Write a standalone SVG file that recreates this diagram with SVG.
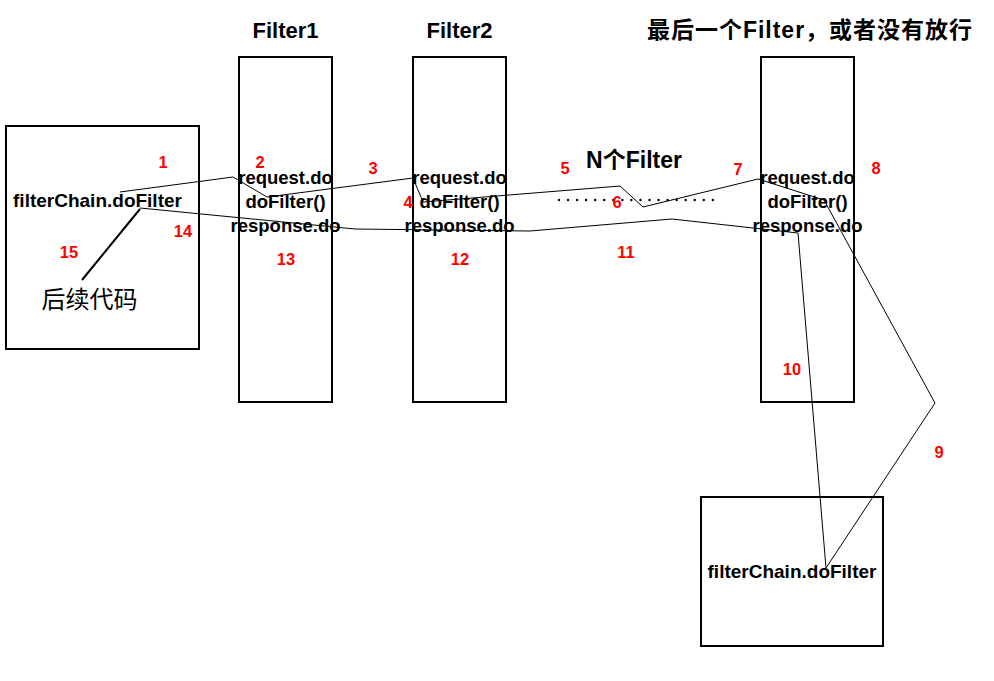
<svg xmlns="http://www.w3.org/2000/svg" width="994" height="681" viewBox="0 0 994 681">
<style>
.box{fill:none;stroke:#000;stroke-width:2}
.t{font-family:"Liberation Sans",Arial,"Noto Sans CJK SC",sans-serif;font-weight:bold;font-size:18.5px;fill:#000;text-anchor:middle}
.fc{font-size:19px}
.h{font-family:"Liberation Sans",Arial,"Noto Sans CJK SC",sans-serif;font-weight:bold;font-size:22px;fill:#000;text-anchor:middle}
.n{font-family:"Liberation Sans",Arial,sans-serif;font-weight:bold;font-size:16.5px;fill:#FF0000;text-anchor:middle}
.c{fill:none;stroke:#000;stroke-width:1;stroke-linejoin:miter}
</style>
<rect width="994" height="681" fill="#fff"/>
<g id="caller">
<rect class="box" x="6" y="126" width="193" height="223"/>
<text class="t fc" x="97.5" y="207">filterChain.doFilter</text>
<text x="89.5" y="308" font-family="'Noto Sans CJK SC',sans-serif" font-size="24px" text-anchor="middle" fill="#000">后续代码</text>
</g>
<g id="filter1">
<text class="h" x="285.5" y="38">Filter1</text>
<rect class="box" x="239" y="57" width="93" height="345"/>
<text class="t" x="285.5" y="184">request.do</text>
<text class="t" x="285.5" y="208">doFilter()</text>
<text class="t" x="285.5" y="232">response.do</text>
</g>
<g id="filter2">
<text class="h" x="459.5" y="38">Filter2</text>
<rect class="box" x="413" y="57" width="93" height="345"/>
<text class="t" x="459.5" y="184">request.do</text>
<text class="t" x="459.5" y="208">doFilter()</text>
<text class="t" x="459.5" y="232">response.do</text>
</g>
<g id="nfilters">
<text class="h" x="634" y="168" font-size="23px" style="font-size:23px">N个Filter</text>
<line x1="559" y1="200" x2="714" y2="200" stroke="#000" stroke-width="2.4" stroke-linecap="round" stroke-dasharray="0 9.05"/>
</g>
<g id="lastfilter">
<text class="h" x="810" y="38" style="font-size:23px;letter-spacing:1px">最后一个Filter，或者没有放行</text>
<rect class="box" x="761" y="57" width="93" height="345"/>
<text class="t" x="807.5" y="184">request.do</text>
<text class="t" x="807.5" y="208">doFilter()</text>
<text class="t" x="807.5" y="232">response.do</text>
</g>
<g id="target">
<rect class="box" x="701" y="497" width="182" height="149"/>
<text class="t fc" x="792" y="578">filterChain.doFilter</text>
</g>
<g id="connectors">
<polyline class="c" points="120,192 233,177 267,197 413,178 423,202 620,186 643,207 758,179 824,200 935,403 826,568 798,233 753,228 672,219 530,231 355,229 140,208"/>
<line x1="140" y1="209" x2="82" y2="280" stroke="#000" stroke-width="2"/>
</g>
<g id="labels">
<text class="n" x="163" y="168">1</text>
<text class="n" x="260" y="168">2</text>
<text class="n" x="373" y="174">3</text>
<text class="n" x="408" y="208">4</text>
<text class="n" x="565" y="174">5</text>
<text class="n" x="617" y="208">6</text>
<text class="n" x="738" y="175">7</text>
<text class="n" x="876" y="174">8</text>
<text class="n" x="939" y="458">9</text>
<text class="n" x="792" y="375">10</text>
<text class="n" x="626" y="258">11</text>
<text class="n" x="460" y="265">12</text>
<text class="n" x="286" y="265">13</text>
<text class="n" x="183" y="237">14</text>
<text class="n" x="69" y="258">15</text>
</g>
</svg>
